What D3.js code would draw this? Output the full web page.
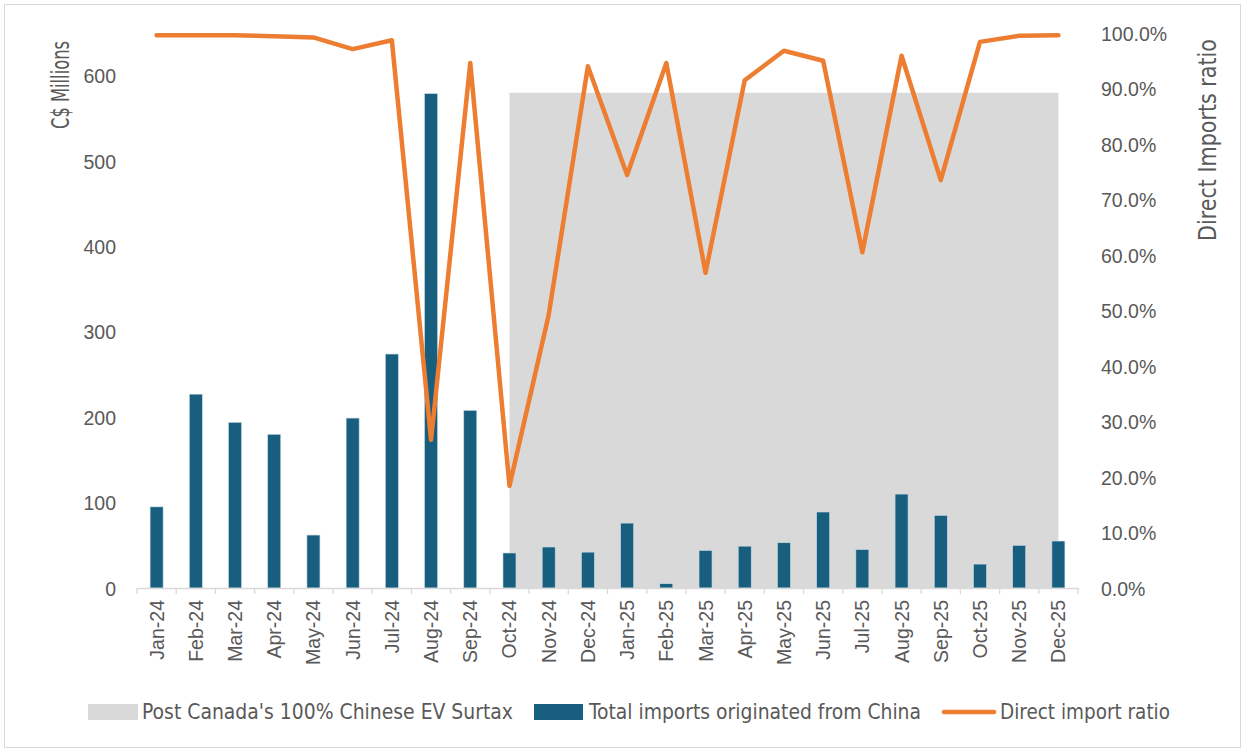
<!DOCTYPE html>
<html>
<head>
<meta charset="utf-8">
<script src="https://cdn.jsdelivr.net/npm/d3@7"></script>
<style>
  html, body { margin: 0; padding: 0; background: #ffffff; }
  svg { display: block; }
  .tick-label { font-family: "Liberation Sans", Arial, sans-serif; font-size: 19.5px; fill: #595959; }
  .narrow { font-family: "Liberation Sans Narrow", "DejaVu Sans Condensed", "Roboto Condensed", sans-serif; font-stretch: condensed; fill: #595959; }
</style>
</head>
<body>
<svg id="chart" width="1245" height="752"></svg>
<script>
// Monthly categories
const months = ["Jan-24","Feb-24","Mar-24","Apr-24","May-24","Jun-24","Jul-24","Aug-24","Sep-24","Oct-24","Nov-24","Dec-24",
                "Jan-25","Feb-25","Mar-25","Apr-25","May-25","Jun-25","Jul-25","Aug-25","Sep-25","Oct-25","Nov-25","Dec-25"];

// Total imports originated from China (C$ millions)
const totalImports = [95, 227, 194, 180, 62, 199, 274, 579, 208, 41, 48, 42,
                      76, 5, 44, 49, 53, 89, 45, 110, 85, 28, 50, 55];

// Direct import ratio (share of total)
const directRatio = [0.996, 0.996, 0.996, 0.994, 0.992, 0.971, 0.987, 0.267, 0.946, 0.184, 0.492, 0.940,
                     0.744, 0.946, 0.568, 0.915, 0.968, 0.950, 0.605, 0.959, 0.735, 0.984, 0.995, 0.996];

// Shaded period after the 100% surtax (C$ millions, drawn on the left axis)
const surtaxBand = [null, null, null, null, null, null, null, null, null, 580, 580, 580,
                    580, 580, 580, 580, 580, 580, 580, 580, 580, 580, 580, 580];

const leftTicks = [0, 100, 200, 300, 400, 500, 600];
const rightTicks = [0, 0.1, 0.2, 0.3, 0.4, 0.5, 0.6, 0.7, 0.8, 0.9, 1.0];

const legendLabels = ["Post Canada's 100% Chinese EV Surtax", "Total imports originated from China", "Direct import ratio"];

const colors = { band: "#d9d9d9", bar: "#185e7f", line: "#ed7d31", axis: "#d9d9d9", text: "#595959" };

const svg = d3.select("#chart");
const W = 1245, H = 752;
const plot = { left: 137, right: 1078, top: 33, bottom: 588 };

// outer frame
svg.append("rect").attr("x", 4.5).attr("y", 4.5).attr("width", W - 9).attr("height", H - 9)
  .attr("fill", "#fff").attr("stroke", "#d9d9d9").attr("stroke-width", 1);

const x = d3.scaleBand().domain(months).range([plot.left, plot.right]).paddingInner(0).paddingOuter(0);
const yL = d3.scaleLinear().domain([0, 650]).range([plot.bottom, plot.top]);
const yR = d3.scaleLinear().domain([0, 1]).range([plot.bottom, plot.top]);
const cx = m => x(m) + x.bandwidth() / 2;

// shaded surtax period
const area = d3.area()
  .defined(d => d.v != null)
  .x(d => cx(d.m))
  .y0(yL(0))
  .y1(d => yL(d.v));
svg.append("path")
  .datum(months.map((m, i) => ({ m, v: surtaxBand[i] })))
  .attr("d", area)
  .attr("fill", colors.band);

// bars
const barW = 13;
svg.append("g").selectAll("rect")
  .data(months.map((m, i) => ({ m, v: totalImports[i] })))
  .join("rect")
  .attr("x", d => cx(d.m) - barW / 2)
  .attr("width", barW)
  .attr("y", d => yL(d.v))
  .attr("height", d => yL(0) - yL(d.v))
  .attr("fill", colors.bar)
  .attr("stroke", "#c9dbe3")
  .attr("stroke-width", 0.6);

// x axis
const xAxis = d3.axisBottom(x).tickSize(0).tickFormat("");
const gx = svg.append("g").attr("transform", `translate(0,${plot.bottom})`).call(xAxis);
gx.select(".domain").attr("stroke", colors.axis).attr("stroke-width", 1.3);
// tick marks on band boundaries
const bounds = months.map(m => x(m)).concat([plot.right]);
svg.append("g").selectAll("line").data(bounds).join("line")
  .attr("x1", d => d).attr("x2", d => d)
  .attr("y1", plot.bottom).attr("y2", plot.bottom + 6)
  .attr("stroke", colors.axis).attr("stroke-width", 1.3);
// rotated month labels
svg.append("g").selectAll("text").data(months).join("text")
  .attr("class", "tick-label")
  .attr("transform", d => `translate(${cx(d) + 7},${plot.bottom + 12}) rotate(-90)`)
  .attr("text-anchor", "end")
  .text(d => d);

// left axis
const gl = svg.append("g").attr("transform", `translate(${plot.left},0)`)
  .call(d3.axisLeft(yL).tickValues(leftTicks).tickSize(0).tickPadding(21));
gl.select(".domain").remove();
gl.selectAll("text").attr("class", "tick-label").attr("dy", "0.36em");
gl.attr("font-family", null).attr("font-size", null);

// right axis
const gr = svg.append("g").attr("transform", `translate(${plot.right},0)`)
  .call(d3.axisRight(yR).tickValues(rightTicks).tickSize(0).tickPadding(23).tickFormat(d3.format(".1%")));
gr.select(".domain").remove();
gr.selectAll("text").attr("class", "tick-label").attr("dy", "0.36em");
gr.attr("font-family", null).attr("font-size", null);

// ratio line
const line = d3.line().x(d => cx(d.m)).y(d => yR(d.v));
svg.append("path")
  .datum(months.map((m, i) => ({ m, v: directRatio[i] })))
  .attr("d", line)
  .attr("fill", "none")
  .attr("stroke", colors.line)
  .attr("stroke-width", 4.5)
  .attr("stroke-linejoin", "round")
  .attr("stroke-linecap", "round");

// axis titles
function fitText(sel, len) {
  sel.attr("textLength", len).attr("lengthAdjust", "spacingAndGlyphs");
}
svg.append("text").attr("class", "narrow")
  .attr("transform", `translate(69,85) rotate(-90)`)
  .attr("text-anchor", "middle")
  .style("font-size", "24px")
  .text("C$ Millions").call(fitText, 88);
svg.append("text").attr("class", "narrow")
  .attr("transform", `translate(1216,140) rotate(-90)`)
  .attr("text-anchor", "middle")
  .style("font-size", "24px")
  .text("Direct Imports ratio").call(fitText, 202);

// legend
const legend = svg.append("g");
const ly = 712;
legend.append("rect").attr("x", 88).attr("y", ly - 8).attr("width", 50).attr("height", 16).attr("fill", colors.band);
legend.append("text").attr("class", "narrow").attr("x", 142).attr("y", ly + 7).style("font-size", "21px")
  .text(legendLabels[0]).call(fitText, 371);
legend.append("rect").attr("x", 534).attr("y", ly - 8).attr("width", 49).attr("height", 16).attr("fill", colors.bar);
legend.append("text").attr("class", "narrow").attr("x", 589).attr("y", ly + 7).style("font-size", "21px")
  .text(legendLabels[1]).call(fitText, 332);
legend.append("line").attr("x1", 944).attr("x2", 994).attr("y1", ly).attr("y2", ly)
  .attr("stroke", colors.line).attr("stroke-width", 4.5).attr("stroke-linecap", "round");
legend.append("text").attr("class", "narrow").attr("x", 1000).attr("y", ly + 7).style("font-size", "21px")
  .text(legendLabels[2]).call(fitText, 170);
</script>
</body>
</html>
